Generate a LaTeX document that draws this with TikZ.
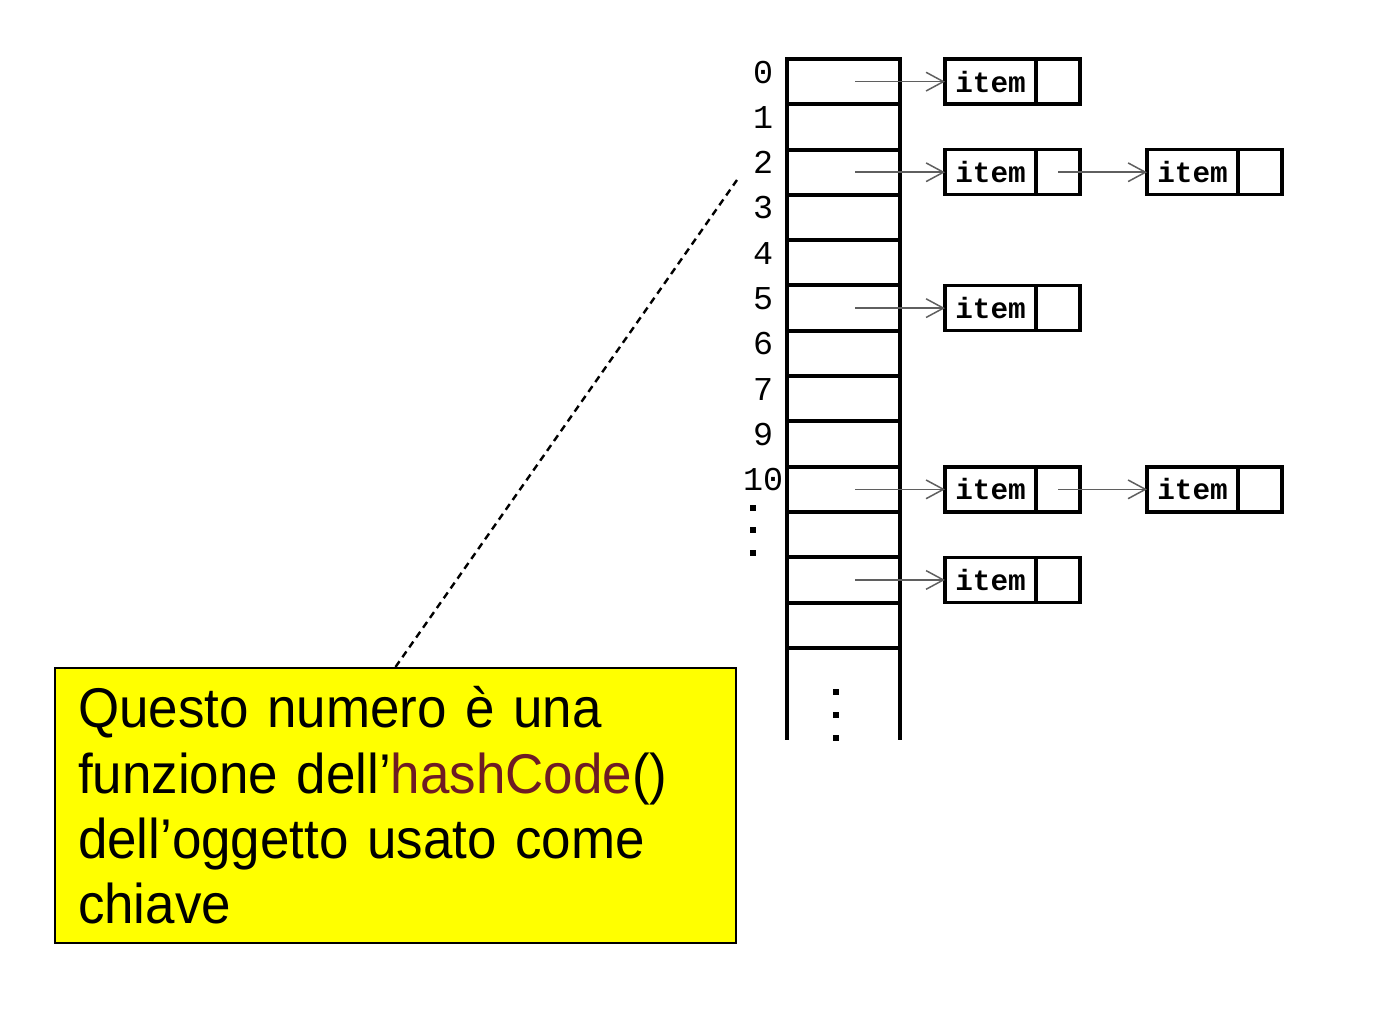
\documentclass[tikz,border=0pt]{standalone}
\usepackage{fontspec}
\setmainfont[FakeStretch=0.945]{Liberation Sans}
\setmonofont{Liberation Mono}
\usetikzlibrary{positioning}
\usetikzlibrary{arrows.meta}

\newlength{\pxu}
\setlength{\pxu}{0.75pt}
\definecolor{hashred}{RGB}{110,28,36}
\definecolor{notefill}{RGB}{255,255,0}
\definecolor{linkgray}{RGB}{95,95,95}

\tikzset{
  cell/.style={draw, line width=4\pxu, minimum width=113\pxu,
    minimum height=45.3\pxu, inner sep=0pt, outer sep=0pt},
  itembox/.style={draw, line width=3.5\pxu, minimum width=91\pxu,
    minimum height=45\pxu, inner sep=0pt, outer sep=0pt,
    font=\ttfamily\bfseries\fontsize{22pt}{22pt}\selectfont},
  ptrbox/.style={itembox, minimum width=44\pxu},
  idx/.style={inner sep=0pt, font=\ttfamily\fontsize{25pt}{25pt}\selectfont},
  link/.style={draw=linkgray, line width=1.5\pxu,
    -{Straight Barb[length=13pt,width=14pt]}},
  note/.style={draw, fill=notefill, line width=2\pxu, align=left,
    text width=635\pxu, inner xsep=23\pxu, minimum height=275\pxu,
    font=\fontsize{42pt}{49pt}\selectfont}
}

\begin{document}
\begin{tikzpicture}[x=0.75pt, y=-0.75pt]
  \useasboundingbox (0,0) rectangle (1382,1030);

  % the table
  \foreach \r in {0,...,12}
    \node [cell] (cell\r) at (843.5, {81.65+45.3*\r}) {};
  \coordinate (tabend) at (843.5, 740);
  \draw [line width=4\pxu] (cell12.south west) -- (cell12.south west |- tabend);
  \draw [line width=4\pxu] (cell12.south east) -- (cell12.south east |- tabend);

  \foreach \r/\l in {0/0,1/1,2/2,3/3,4/4,5/5,6/6,7/7,8/9,9/10}
    \node [idx] (lab\r) at ([shift={(-24\pxu,9.6\pxu)}]cell\r.west) {\l};

  \foreach \y in {508,530,553}
    \fill (750,{\y-3}) rectangle (756,{\y+3});
  \foreach \y in {692,715,738}
    \fill (833,{\y-3}) rectangle (839,{\y+3});

  % the chains
  \foreach \r in {0,2,5,9,11} {
    \node [itembox, right=45\pxu of cell\r] (item\r) {item};
    \node [ptrbox, right=0pt of item\r] (ptr\r) {};
    \draw [link] ([xshift=11.5\pxu]cell\r.center) -- (item\r.west);
  }
  \foreach \r in {2,9} {
    \node [itembox, right=67\pxu of ptr\r] (itemb\r) {item};
    \node [ptrbox, right=0pt of itemb\r] (ptrb\r) {};
    \draw [link] (ptr\r.center) -- (itemb\r.west);
  }

  % the note
  \node [note] (note) at (395.5, 805.5)
    {Questo numero è una\\
     funzione dell’\textcolor{hashred}{hashCode}()\\
     dell’oggetto usato come\\
     chiave};
  \coordinate (tip) at (737, 180);
  \draw [line width=2.4\pxu, dash pattern=on 7\pxu off 5\pxu] (note.north) -- (tip);

\end{tikzpicture}
\end{document}
